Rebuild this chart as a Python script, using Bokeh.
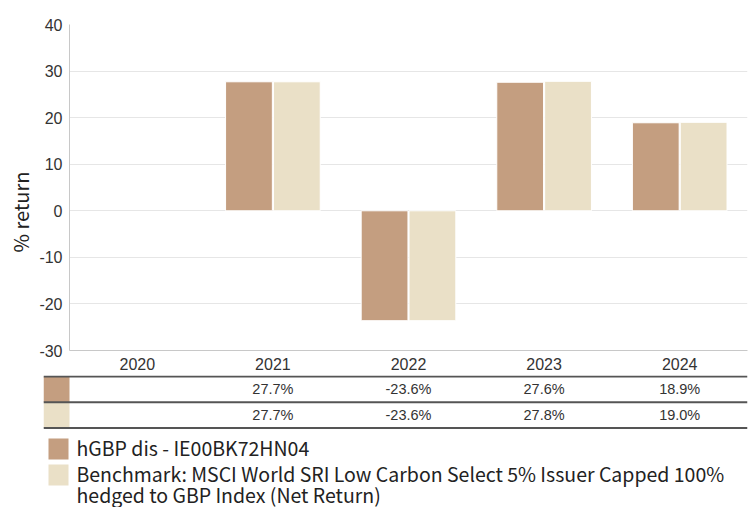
from bokeh.plotting import figure
from bokeh.models import (ColumnDataSource, FactorRange, Range1d, FixedTicker, Title)
from bokeh.layouts import column
from bokeh.transform import dodge
from bokeh.core.properties import value
from bokeh.embed import file_html
from bokeh.resources import INLINE

# ---- data ----
years = ["2020", "2021", "2022", "2023", "2024"]
fund_values = [None, 27.7, -23.6, 27.6, 18.9]
bench_values = [None, 27.7, -23.6, 27.8, 19.0]
fund_labels = ["", "27.7%", "-23.6%", "27.6%", "18.9%"]
bench_labels = ["", "27.7%", "-23.6%", "27.8%", "19.0%"]
series_names = ["hGBP dis - IE00BK72HN04",
                "Benchmark: MSCI World SRI Low Carbon Select 5% Issuer Capped 100%\nhedged to GBP Index (Net Return)"]
series_colors = ["#C49E80", "#EAE0C7"]
y_ticks = [-30, -20, -10, 0, 10, 20, 30, 40]

W = 748
AXIS_FONT = "Liberation Sans"
LEG_FONT = "Noto Sans CJK KR"
TXT = "#333333"

# ---- main chart ----
src = ColumnDataSource(dict(
    year=years,
    fund=[v if v is not None else float("nan") for v in fund_values],
    bench=[v if v is not None else float("nan") for v in bench_values],
))

p = figure(x_range=FactorRange(factors=years, range_padding=0), y_range=Range1d(-30, 40),
           width=W, height=375, output_backend="svg", toolbar_location=None,
           min_border_left=69, min_border_right=1, min_border_top=24, min_border_bottom=25)
p.frame_align = False
p.outline_line_color = None
bw = 0.345
p.vbar(x=dodge("year", -bw / 2 - 0.004, range=p.x_range), top="fund", bottom=0, width=bw,
       source=src, fill_color=series_colors[0], line_color="white", line_width=1)
p.vbar(x=dodge("year", bw / 2 + 0.004, range=p.x_range), top="bench", bottom=0, width=bw,
       source=src, fill_color=series_colors[1], line_color="white", line_width=1)

p.yaxis.ticker = FixedTicker(ticks=y_ticks)
p.yaxis.major_label_overrides = {t: str(t) for t in y_ticks}
p.yaxis.major_tick_line_color = None
p.yaxis.minor_tick_line_color = None
p.yaxis.major_tick_out = 0
p.yaxis.axis_line_color = "#c8c8c8"
p.yaxis.major_label_text_font = AXIS_FONT
p.yaxis.major_label_text_font_size = "16px"
p.yaxis.major_label_text_color = TXT
p.yaxis.major_label_standoff = 7

p.xaxis.major_tick_line_color = None
p.xaxis.minor_tick_line_color = None
p.xaxis.major_tick_out = 0
p.xaxis.axis_line_color = "#c8c8c8"
p.xaxis.major_label_text_font = AXIS_FONT
p.xaxis.major_label_text_font_size = "16px"
p.xaxis.major_label_text_color = TXT
p.xaxis.major_label_standoff = 7
p.xgrid.grid_line_color = None
p.ygrid.grid_line_color = "#e6e6e6"

p.add_layout(Title(text="% return", align="left", offset=98, standoff=4,
                   text_font=LEG_FONT, text_font_size="20px", text_font_style="normal",
                   text_color="#222222"), "left")

# ---- data table under the chart ----
px_per_year = (W - 69 - 1) / len(years)
x0 = 2019.5 - 26 / px_per_year
yrs_num = [int(y) for y in years]
t = figure(x_range=Range1d(x0, 2024.5), y_range=Range1d(-0.097, 2.039),
           width=W, height=55, output_backend="svg", toolbar_location=None,
           min_border_left=43, min_border_right=1, min_border_top=0, min_border_bottom=0)
t.frame_align = False
t.outline_line_color = None
t.axis.visible = False
t.grid.visible = False
t.quad(left=[x0, x0], right=[2019.5, 2019.5], bottom=[1, 0], top=[2, 1],
       fill_color=series_colors, line_color=None)
t.text(x=yrs_num, y=[1.5] * len(years), text=fund_labels, text_align="center",
       text_baseline="middle", text_font=value(AXIS_FONT), text_font_size="14.5px", text_color=TXT)
t.text(x=yrs_num, y=[0.5] * len(years), text=bench_labels, text_align="center",
       text_baseline="middle", text_font=value(AXIS_FONT), text_font_size="14.5px", text_color=TXT)
t.segment(x0=[x0] * 3, x1=[2024.5] * 3, y0=[2, 1, 0], y1=[2, 1, 0],
          line_color="#555555", line_width=2)

# ---- legend ----
LH = 77
lg = figure(x_range=Range1d(0, W), y_range=Range1d(LH, 0), width=W, height=LH,
            output_backend="svg", toolbar_location=None,
            min_border_left=0, min_border_right=0, min_border_top=0, min_border_bottom=0)
lg.frame_align = False
lg.outline_line_color = None
lg.axis.visible = False
lg.grid.visible = False
sw_top = [8 + 26 * i for i in range(len(series_names))]
lg.quad(left=[48] * 2, right=[68] * 2, top=sw_top, bottom=[y + 21 for y in sw_top],
        fill_color=series_colors, line_color=None)
lx, ly, lt = [], [], []
for i, name in enumerate(series_names):
    for j, line in enumerate(name.split("\n")):
        lx.append(76)
        ly.append(sw_top[i] + 9 + 20.5 * j)
        lt.append(line)
lg.text(x=lx, y=ly, text=lt, text_align="left", text_baseline="alphabetic",
        text_font=value(LEG_FONT), text_font_size="19.5px", text_color="#222222")

layout = column(p, t, lg, spacing=0)
open("out.html", "w").write(file_html(layout, INLINE))
